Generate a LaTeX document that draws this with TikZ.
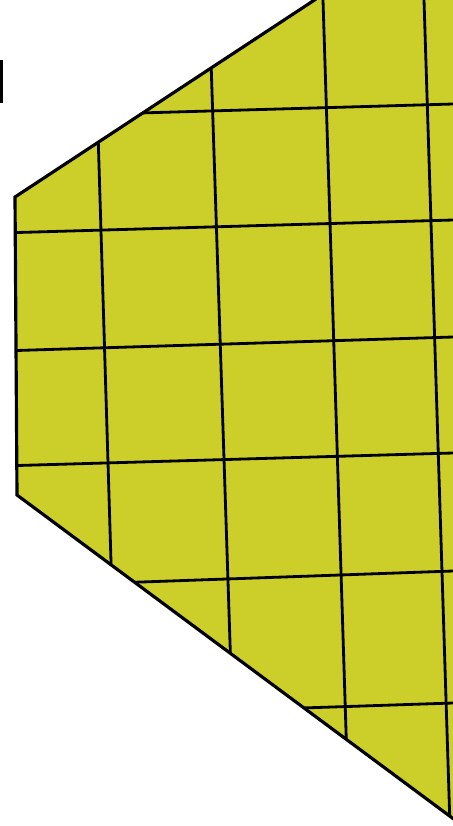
\documentclass[tikz,border=0pt]{standalone}
\usepackage{tikz}
\usepackage{xcolor}
\definecolor{plate}{RGB}{204,207,42}

\begin{document}
\begin{tikzpicture}[x=0.02cm, y=-0.02cm,
    grid line/.style={black, line width=1.6pt},
    edge line/.style={black, line width=1.8pt, line join=miter}]
  \useasboundingbox (0,0) rectangle (453,826);
  \clip (0,0) rectangle (453,826);
  % corners of the plate
  \coordinate (topcut) at (316,-1);
  \coordinate (nw) at (15,197);
  \coordinate (sw) at (17,495);
  \coordinate (botcut) at (455,820);
  \coordinate (ne) at (455,-1);
  % plate
  \fill[plate] (topcut) -- (nw) -- (sw) -- (botcut) -- (ne) -- cycle;
  % grid, cut to the plate
  \begin{scope}
    \clip (topcut) -- (nw) -- (sw) -- (botcut) -- (ne) -- cycle;
    \foreach \a/\b in {117/104, 233/220, 351/337, 466/453, 587/571, 718/703} {
      \draw[grid line] (0,\a) -- (453,\b);
    }
    \foreach \a/\b in {94/119, 209/236, 323/349, 424/450} {
      \draw[grid line] (\a,0) -- (\b,826);
    }
  \end{scope}
  % outline
  \draw[edge line] (topcut) -- (nw) -- (sw) -- (botcut);
  % mark at the left border
  \fill[black] (0,60) rectangle (3,103);
\end{tikzpicture}
\end{document}
